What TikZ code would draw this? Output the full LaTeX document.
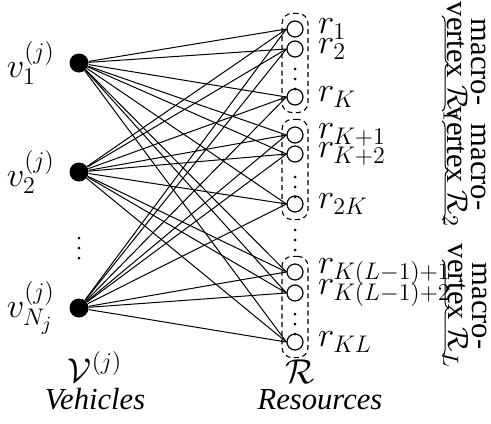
\documentclass[tikz,border=0pt]{standalone}
\usepackage[no-math]{fontspec}
\setmainfont{Liberation Serif}
\usetikzlibrary{fit,decorations.pathreplacing}
\begin{document}
\begin{tikzpicture}[x=0.5pt,y=-0.5pt,
  font=\fontsize{17.28}{20}\selectfont,
  label distance=7pt,
  veh/.style={circle,fill=black,inner sep=0pt,minimum size=9.5pt},
  res/.style={circle,draw,line width=0.6pt,fill=white,inner sep=0pt,minimum size=8pt},
  dotn/.style={circle,fill=black,inner sep=0pt,minimum size=1.5pt},
  grp/.style={draw,dash pattern=on 2.5pt off 1.8pt,line width=0.55pt,rounded corners=5pt,inner xsep=2.2pt,inner ysep=3.5pt},
  edge/.style={line width=0.5pt},
  lab/.style={inner sep=0pt},
  txt/.style={font=\fontsize{15.3}{12}\selectfont},
  mv/.style={txt,rotate=-90,align=center,inner sep=0pt},
  brc/.style={decorate,decoration={brace,amplitude=3pt},line width=0.5pt}
]
\useasboundingbox (0,0) rectangle (491,423);

% vehicles
\node[veh,label={[lab]left:$v_1^{(j)}$}] (v1) at (79,63) {};
\node[veh,label={[lab]left:$v_2^{(j)}$}] (v2) at (79,172) {};
\node[veh,label={[lab]left:$v_{N_j}^{(j)}$}] (vN) at (79,308) {};
\foreach \n/\y in {1/238,2/248,3/258}
  \node[dotn] (vd\n) at (79,\y) {};

% resources
\node[res,label={[lab]right:$r_1$}] (r1) at (295,29) {};
\node[res,label={[lab]right:$r_2$}] (r2) at (295,49) {};
\node[res,label={[lab]right:$r_K$}] (rK) at (295,97) {};
\node[res,label={[lab]right:$r_{K+1}$}] (rK1) at (295,135) {};
\node[res,label={[lab]right:$r_{K+2}$}] (rK2) at (295,154) {};
\node[res,label={[lab]right:$r_{2K}$}] (r2K) at (295,204) {};
\node[res,label={[lab]right:$r_{K(L-1)+1}$}] (rL1) at (295,272) {};
\node[res,label={[lab]right:$r_{K(L-1)+2}$}] (rL2) at (295,293) {};
\node[res,label={[lab]right:$r_{KL}$}] (rKL) at (295,342) {};

\foreach \n/\y in {1/69,2/79,3/89,4/177,5/187,6/197,7/230,8/240,9/250,10/314,11/324,12/334}
  \node[dotn] (rd\n) at (295,\y) {};

% groups
\node[grp,fit=(r1)(rK)] (g1) {};
\node[grp,fit=(rK1)(r2K)] (g2) {};
\node[grp,fit=(rL1)(rKL)] (g3) {};

% edges
\foreach \v in {v1,v2,vN}
  \foreach \r in {r1,r2,rK,rK1,rK2,r2K,rL1,rL2,rKL}
    \draw[edge] (\v) -- (\r.west);

% braces
\coordinate (bx) at (442,0);
\draw[brc] ([yshift=-1.5pt]bx |- g1.north) -- ([yshift=1pt]bx |- g1.south);
\draw[brc] ([yshift=-1pt]bx |- g2.north) -- ([yshift=0pt]bx |- g2.south);
\draw[brc] ([yshift=-2pt]bx |- g3.north) -- ([yshift=1pt]bx |- g3.south);

\node[mv] (m1) at (465,62) {macro-\\vertex $\mathcal{R}_1$};
\node[mv] (m2) at (465,167) {macro-\\vertex $\mathcal{R}_2$};
\node[mv] (m3) at (465,306) {macro-\\vertex $\mathcal{R}_L$};

% bottom labels
\node[anchor=base] (vlabel) at (95,382) {$\mathcal{V}^{(j)}$};
\node[txt,anchor=base] (vtext) at (95,409) {\textit{Vehicles}};
\node[anchor=base] (rlabel) at (300,383) {$\mathcal{R}$};
\node[txt,anchor=base] (rtext) at (320,409) {\textit{Resources}};
\end{tikzpicture}
\end{document}
